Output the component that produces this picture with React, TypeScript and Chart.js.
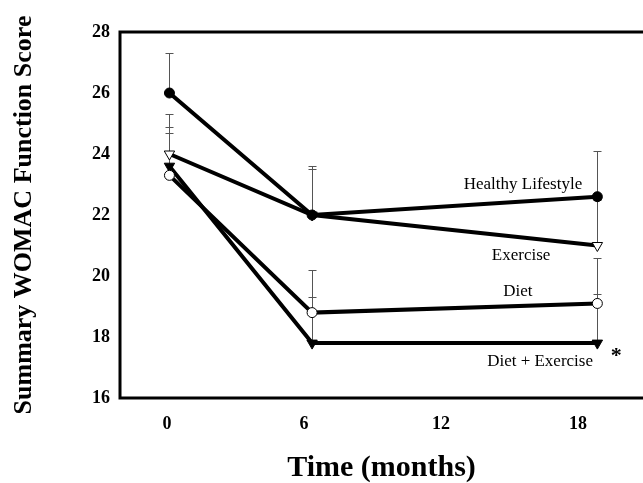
import React, { useEffect, useRef } from 'react';
import { Chart, registerables } from 'chart.js';

Chart.register(...registerables);

const months = [0, 6, 18];
const xTickValues = [0, 6, 12, 18];
const yTickValues = [16, 18, 20, 22, 24, 26, 28];

const healthy = [26.0, 22.0, 22.6];
const exercise = [24.0, 22.0, 21.0];
const diet = [23.3, 18.8, 19.1];
const dietExercise = [23.6, 17.8, 17.8];

const healthyUpper = [27.3, 23.5, 24.1];
const exerciseUpper = [25.3, 23.6, 22.5];
const dietUpper = [24.7, 20.2, 20.6];
const dietExerciseUpper = [24.9, 19.3, 19.4];

const labelTexts = ['Healthy Lifestyle', 'Exercise', 'Diet', 'Diet + Exercise', '*'];
const labelX = [14.87, 14.79, 14.66, 15.59, 18.79];
const labelY = [23.0, 20.67, 19.5, 17.2, 17.18];

const SERIF = "'Liberation Serif', 'Times New Roman', serif";

const errorBarPlugin = {
  id: 'errorBars',
  beforeDatasetsDraw(chart: any) {
    const { ctx } = chart;
    const xs = chart.scales.xData;
    const ys = chart.scales.y;
    ctx.save();
    ctx.strokeStyle = '#555';
    ctx.lineWidth = 1;
    chart.data.datasets.forEach((ds: any) => {
      const up = ds.upper;
      if (!up) return;
      ds.data.forEach((pt: any, i: number) => {
        const px = Math.round(xs.getPixelForValue(pt.x)) + 0.5;
        const py = ys.getPixelForValue(pt.y);
        const pu = Math.round(ys.getPixelForValue(up[i])) + 0.5;
        ctx.beginPath();
        ctx.moveTo(px, py);
        ctx.lineTo(px, pu);
        ctx.moveTo(px - 4, pu);
        ctx.lineTo(px + 4, pu);
        ctx.stroke();
      });
    });
    ctx.restore();
  },
};

const framePlugin = {
  id: 'frame',
  afterDraw(chart: any) {
    const { ctx, chartArea } = chart;
    ctx.save();
    ctx.strokeStyle = '#000';
    ctx.lineWidth = 3;
    ctx.beginPath();
    ctx.moveTo(chartArea.right + 5, chartArea.top);
    ctx.lineTo(chartArea.left, chartArea.top);
    ctx.lineTo(chartArea.left, chartArea.bottom);
    ctx.lineTo(chartArea.right + 5, chartArea.bottom);
    ctx.stroke();
    ctx.restore();
  },
};

const textLabelPlugin = {
  id: 'textLabels',
  afterDatasetsDraw(chart: any) {
    const { ctx } = chart;
    const xs = chart.scales.xData;
    const ys = chart.scales.y;
    ctx.save();
    ctx.fillStyle = '#000';
    ctx.textAlign = 'center';
    labelTexts.forEach((t, i) => {
      const px = xs.getPixelForValue(labelX[i]);
      const py = ys.getPixelForValue(labelY[i]);
      if (t === '*') {
        ctx.font = `bold 22px ${SERIF}`;
        ctx.textBaseline = 'alphabetic';
      } else {
        ctx.font = `17px ${SERIF}`;
        ctx.textBaseline = 'middle';
      }
      ctx.fillText(t, px, py);
    });
    ctx.restore();
  },
};

function toPoints(vals: number[]) {
  return months.map((m, i) => ({ x: m, y: vals[i] }));
}

export default function App() {
  const canvasRef = useRef<HTMLCanvasElement | null>(null);

  useEffect(() => {
    if (!canvasRef.current) return;
    const common = {
      showLine: true,
      xAxisID: 'xData',
      yAxisID: 'y',
      borderColor: '#000',
      borderWidth: 4,
      pointBorderColor: '#000',
      pointBorderWidth: 1,
      pointRadius: 5,
      tension: 0,
    };
    const chart = new Chart(canvasRef.current, {
      type: 'scatter',
      data: {
        datasets: [
          {
            ...common,
            label: 'Healthy Lifestyle',
            data: toPoints(healthy),
            upper: healthyUpper,
            pointStyle: 'circle',
            pointBackgroundColor: '#000',
          } as any,
          {
            ...common,
            label: 'Exercise',
            data: toPoints(exercise),
            upper: exerciseUpper,
            pointStyle: 'triangle',
            pointRotation: 180,
            pointRadius: 6,
            pointBackgroundColor: '#fff',
          } as any,
          {
            ...common,
            label: 'Diet',
            data: toPoints(diet),
            upper: dietUpper,
            pointStyle: 'circle',
            pointBackgroundColor: '#fff',
          } as any,
          {
            ...common,
            label: 'Diet + Exercise',
            data: toPoints(dietExercise),
            upper: dietExerciseUpper,
            pointStyle: 'triangle',
            pointRotation: 180,
            pointRadius: 6,
            pointBackgroundColor: '#000',
          } as any,
        ],
      },
      options: {
        animation: false,
        responsive: false,
        layout: { autoPadding: false, padding: { top: 32, right: 0, left: 0, bottom: 0 } },
        plugins: {
          legend: { display: false },
          tooltip: { enabled: false },
        },
        scales: {
          xData: {
            type: 'linear',
            position: 'bottom',
            axis: 'x',
            display: false,
            min: -2.08,
            max: 19.92,
          },
          x: {
            type: 'linear',
            position: 'bottom',
            axis: 'x',
            display: true,
            min: -2.06,
            max: 20.85,
            afterBuildTicks: (scale: any) => {
              scale.ticks = xTickValues.map((v) => ({ value: v }));
            },
            afterFit: (scale: any) => {
              scale.height = 85;
              scale.paddingRight = 0;
              scale.paddingLeft = 0;
            },
            grid: { display: false, drawTicks: false },
            border: { display: false },
            ticks: {
              color: '#000',
              padding: 16,
              maxRotation: 0,
              autoSkip: false,
              font: { family: SERIF, size: 18, weight: 'bold' },
            },
            title: {
              display: true,
              text: 'Time (months)',
              color: '#000',
              padding: { top: 0, bottom: -3 },
              font: { family: SERIF, size: 30, weight: 'bold' },
            },
          },
          y: {
            type: 'linear',
            min: 16,
            max: 28,
            afterBuildTicks: (scale: any) => {
              scale.ticks = yTickValues.map((v) => ({ value: v }));
            },
            afterFit: (scale: any) => {
              scale.width = 120;
            },
            grid: { display: false, drawTicks: false },
            border: { display: false },
            ticks: {
              color: '#000',
              padding: 10,
              font: { family: SERIF, size: 18, weight: 'bold' },
            },
            title: {
              display: true,
              text: 'Summary WOMAC Function Score',
              color: '#000',
              padding: { top: 9, bottom: 0 },
              font: { family: SERIF, size: 26, weight: 'bold' },
            },
          },
        },
      } as any,
      plugins: [errorBarPlugin, textLabelPlugin, framePlugin],
    });
    return () => chart.destroy();
  }, []);

  return (
    <div style={{ position: 'absolute', left: 0, top: 0, width: 643, height: 483, background: '#fff' }}>
      <canvas ref={canvasRef} width={643} height={483} />
    </div>
  );
}
